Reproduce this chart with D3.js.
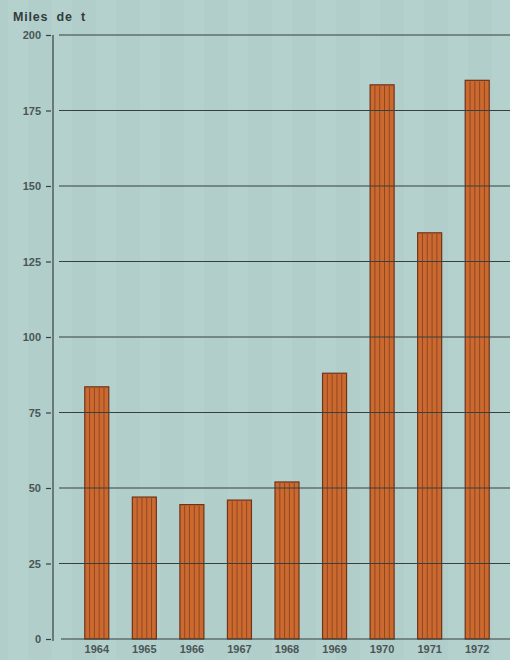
<!DOCTYPE html>
<meta charset="utf-8">
<style>
  body { margin: 0; background: #b1cecb; }
  .axis text { font-family: "Liberation Sans", Arial, sans-serif; font-size: 11px; font-weight: bold; fill: #4a5656; }
</style>
<div class="chart"></div>
<script src="https://cdn.jsdelivr.net/npm/d3@7/dist/d3.min.js"></script>
<script>
  // data (thousands of tonnes)
  var years = ["1964","1965","1966","1967","1968","1969","1970","1971","1972"];
  var values = [83.5, 47, 44.5, 46, 52, 88, 183.5, 134.5, 185];
  var yTicks = [0, 25, 50, 75, 100, 125, 150, 175, 200];
  var unitLabel = "Miles de t";

  var width = 510, height = 660;

  var svg = d3.select(".chart").append("svg")
      .attr("width", width)
      .attr("height", height);

  // paper background with faint vertical bands
  svg.append("rect").attr("width", width).attr("height", height).attr("fill", "#b1cecb");
  svg.append("g").selectAll("rect")
      .data(d3.range(0, width, 44))
      .enter().append("rect")
      .attr("x", function(d) { return d + 8; })
      .attr("y", 0)
      .attr("width", 20)
      .attr("height", height)
      .attr("fill", "#bdd7d4")
      .attr("opacity", 0.35);

  var x = d3.scaleBand()
      .domain(years)
      .range([61, 513])
      .paddingInner(0.495)
      .paddingOuter(0.5);

  var y = d3.scaleLinear()
      .domain([0, 200])
      .range([639, 35]);

  // bars
  var bars = svg.append("g").selectAll("g")
      .data(years)
      .enter().append("g");

  bars.append("rect")
      .attr("x", function(d) { return x(d); })
      .attr("y", function(d, i) { return y(values[i]); })
      .attr("width", x.bandwidth())
      .attr("height", function(d, i) { return y(0) - y(values[i]); })
      .attr("fill", "#cb6a30")
      .attr("stroke", "#6e3318")
      .attr("stroke-width", 1.2);

  // vertical hatching inside bars
  bars.each(function(d, i) {
    var g = d3.select(this);
    for (var k = 1; k < 5; k++) {
      g.append("line")
        .attr("x1", x(d) + x.bandwidth() * k / 5)
        .attr("x2", x(d) + x.bandwidth() * k / 5)
        .attr("y1", y(values[i]) + 1)
        .attr("y2", y(0))
        .attr("stroke", "#94461f")
        .attr("stroke-width", 1);
    }
  });

  // gridlines drawn over the bars
  svg.append("g").selectAll("line")
      .data(yTicks)
      .enter().append("line")
      .attr("x1", function(d) { return d == 0 ? 61 : 59; })
      .attr("x2", width)
      .attr("y1", function(d) { return y(d); })
      .attr("y2", function(d) { return y(d); })
      .attr("stroke", "#36403f")
      .attr("stroke-width", 1.2);

  // y axis
  var yAxis = d3.axisLeft(y)
      .tickValues(yTicks)
      .tickSize(5)
      .tickPadding(5);

  var ya = svg.append("g")
      .attr("class", "axis")
      .attr("transform", "translate(51,0)")
      .call(yAxis);
  ya.select(".domain").remove();
  ya.selectAll("line").attr("stroke", "#36403f").attr("stroke-width", 1.2);

  svg.append("line")
      .attr("x1", 53).attr("x2", 53)
      .attr("y1", y(200)).attr("y2", y(0) + 2)
      .attr("stroke", "#36403f")
      .attr("stroke-width", 1.2);

  // year labels
  var xa = svg.append("g")
      .attr("class", "axis")
      .attr("transform", "translate(0," + y(0) + ")")
      .call(d3.axisBottom(x).tickSize(0).tickPadding(6));
  xa.select(".domain").remove();

  // unit label
  svg.append("text")
      .attr("x", 13)
      .attr("y", 21)
      .attr("font-family", "Liberation Sans, Arial, sans-serif")
      .attr("font-weight", "bold")
      .attr("font-size", "12.5px")
      .attr("letter-spacing", "0.8px")
      .attr("word-spacing", "4px")
      .attr("fill", "#333c3c")
      .text(unitLabel);
</script>
